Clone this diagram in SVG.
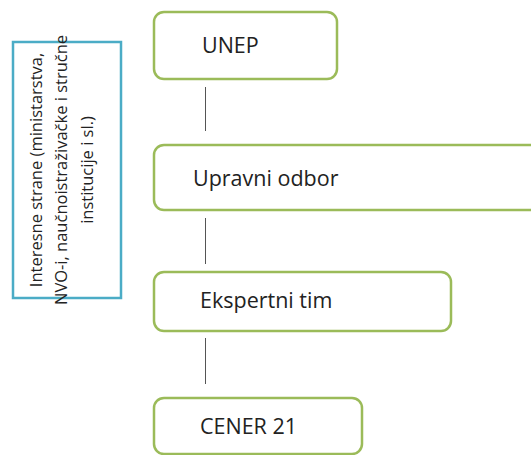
<svg xmlns="http://www.w3.org/2000/svg" width="531" height="455" viewBox="0 0 531 455">
<style>
.box{fill:#fff;stroke:#9BBB59;stroke-width:2.5}
.side{fill:#fff;stroke:#4BACC6;stroke-width:2.5}
.lbl{font-family:"Open Sans","Noto Sans",sans-serif;font-size:21.5px;fill:#222}
.vlbl{font-family:"Open Sans","Noto Sans",sans-serif;font-size:16.5px;fill:#222}
.con{stroke:#555;stroke-width:1;fill:none}
</style>
<rect width="531" height="455" fill="#fff"/>
<g id="connectors">
<line class="con" x1="205.5" y1="87" x2="205.5" y2="131"/>
<line class="con" x1="205.5" y1="218" x2="205.5" y2="264"/>
<line class="con" x1="205.5" y1="338" x2="205.5" y2="384"/>
</g>
<g id="stakeholders">
<rect class="side" x="13" y="42" width="108" height="256"/>
<text class="vlbl" text-anchor="middle" transform="translate(0,170) rotate(-90)"><tspan x="0" y="42">Interesne strane (ministarstva,</tspan><tspan x="0" y="67">NVO-i, naučnoistraživačke i stručne</tspan><tspan x="0" y="93">institucije i sl.)</tspan></text>
</g>
<g id="unep">
<rect class="box" x="154" y="12" width="183" height="67" rx="10"/>
<text class="lbl" x="202" y="53">UNEP</text>
</g>
<g id="upravni">
<rect class="box" x="154" y="145" width="400" height="65" rx="10"/>
<text class="lbl" x="193" y="186">Upravni odbor</text>
</g>
<g id="ekspertni">
<rect class="box" x="154" y="272" width="297" height="59" rx="10"/>
<text class="lbl" x="200" y="308">Ekspertni tim</text>
</g>
<g id="cener">
<rect class="box" x="154" y="398" width="208" height="56" rx="10"/>
<text class="lbl" x="200" y="434">CENER 21</text>
</g>
</svg>
